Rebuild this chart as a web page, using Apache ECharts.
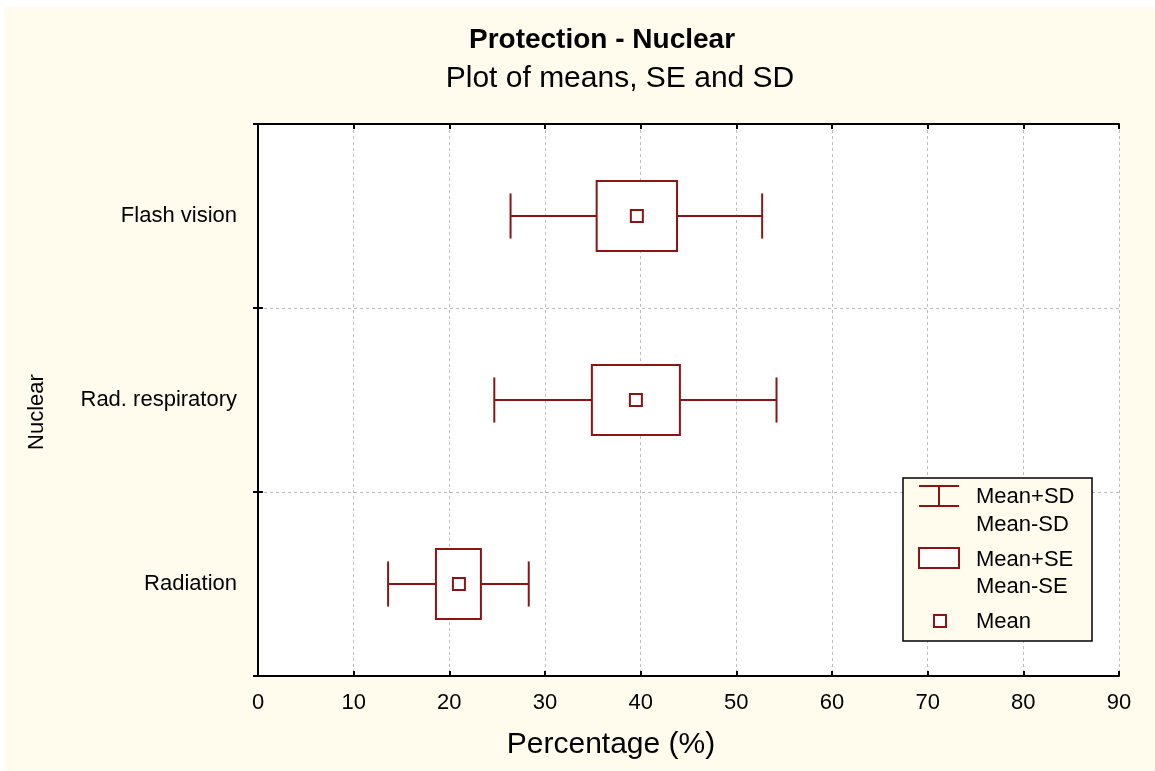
<!DOCTYPE html>
<html>
    <head>
        <meta charset="utf-8" />
        <script src="https://cdn.jsdelivr.net/npm/echarts@6/dist/echarts.min.js"></script>
    </head>
    <body style="margin: 0; background: #ffffff">
        <style>
            html,
            body,
            #main {
                width: 1155px;
                height: 771px;
            }
        </style>
        <div id="main"></div>
        <script>
            // categories bottom -> top
            var categories = ["Radiation", "Rad. respiratory", "Flash vision"];
            var means = [21.0, 39.5, 39.6];
            var seLow = [18.6, 34.9, 35.4];
            var seHigh = [23.3, 44.1, 43.8];
            var sdLow = [13.6, 24.7, 26.4];
            var sdHigh = [28.3, 54.2, 52.7];
            var xTicks = [0, 10, 20, 30, 40, 50, 60, 70, 80, 90];

            var RED = "#8c1414";
            var FONT = "Liberation Sans, Arial, sans-serif";

            var chart = echarts.init(document.getElementById("main"));

            var rows = [];
            for (var i = 0; i < categories.length; i++) {
                rows.push([i, means[i], seLow[i], seHigh[i], sdLow[i], sdHigh[i]]);
            }

            function renderItem(params, api) {
                var y = api.coord([0, api.value(0)])[1];
                var band = api.size([0, 1])[1];
                var xm = api.coord([api.value(1), 0])[0];
                var x1 = api.coord([api.value(2), 0])[0];
                var x2 = api.coord([api.value(3), 0])[0];
                var x0 = api.coord([api.value(4), 0])[0];
                var x3 = api.coord([api.value(5), 0])[0];
                var boxH = band * 0.38;
                var capH = band * 0.245;
                var sq = 12;
                var line = { stroke: RED, lineWidth: 2, fill: null };
                return {
                    type: "group",
                    children: [
                        { type: "line", shape: { x1: x0, y1: y, x2: x1, y2: y }, style: line },
                        { type: "line", shape: { x1: x2, y1: y, x2: x3, y2: y }, style: line },
                        { type: "line", shape: { x1: x0, y1: y - capH / 2, x2: x0, y2: y + capH / 2 }, style: line },
                        { type: "line", shape: { x1: x3, y1: y - capH / 2, x2: x3, y2: y + capH / 2 }, style: line },
                        {
                            type: "rect",
                            shape: { x: x1, y: y - boxH / 2, width: x2 - x1, height: boxH },
                            style: { stroke: RED, lineWidth: 2, fill: "#ffffff" }
                        },
                        {
                            type: "rect",
                            shape: { x: xm - sq / 2, y: y - sq / 2, width: sq, height: sq },
                            style: { stroke: RED, lineWidth: 2, fill: "#ffffff" }
                        }
                    ]
                };
            }

            function dashed() {
                return { show: true, lineStyle: { color: "#bdbdbd", type: [3, 3], width: 1 } };
            }
            function frameLine() {
                return { show: true, lineStyle: { color: "#000000", width: 2 } };
            }
            function tick(inside) {
                return { show: true, inside: inside, length: 5, lineStyle: { color: "#000000", width: 2 } };
            }

            // legend drawn by hand, two-line labels like the original
            var lx = 903, ly = 478;
            var legendTxt = function (t, y) {
                return {
                    type: "text",
                    z: 200,
                    x: lx + 73,
                    y: y,
                    style: { text: t, font: "22px " + FONT, fill: "#000", verticalAlign: "middle" }
                };
            };
            var legendLine = function (x1, y1, x2, y2) {
                return {
                    type: "line",
                    z: 200,
                    shape: { x1: x1, y1: y1, x2: x2, y2: y2 },
                    style: { stroke: RED, lineWidth: 2 }
                };
            };

            chart.setOption({
                backgroundColor: "#ffffff",
                animation: false,
                textStyle: { fontFamily: FONT },
                graphic: [
                    {
                        type: "rect",
                        z: -10,
                        silent: true,
                        shape: { x: 4, y: 7, width: 1151, height: 764 },
                        style: { fill: "#fffcee" }
                    },
                    {
                        type: "text",
                        x: 602,
                        y: 40,
                        style: {
                            text: "Protection - Nuclear",
                            font: "bold 28px " + FONT,
                            fill: "#000",
                            align: "center",
                            verticalAlign: "middle"
                        }
                    },
                    {
                        type: "text",
                        x: 620,
                        y: 79,
                        style: {
                            text: "Plot of means, SE and SD",
                            font: "30px " + FONT,
                            fill: "#000",
                            align: "center",
                            verticalAlign: "middle"
                        }
                    },
                    {
                        type: "text",
                        x: 611,
                        y: 745,
                        style: {
                            text: "Percentage (%)",
                            font: "30px " + FONT,
                            fill: "#000",
                            align: "center",
                            verticalAlign: "middle"
                        }
                    },
                    {
                        type: "text",
                        x: 37,
                        y: 412,
                        rotation: Math.PI / 2,
                        style: {
                            text: "Nuclear",
                            font: "22px " + FONT,
                            fill: "#000",
                            align: "center",
                            verticalAlign: "middle"
                        }
                    },
                    {
                        type: "rect",
                        z: 200,
                        shape: { x: lx, y: ly, width: 189, height: 163 },
                        style: { fill: "#fffcee", stroke: "#000", lineWidth: 1.5 }
                    },
                    legendLine(lx + 16, ly + 8, lx + 56, ly + 8),
                    legendLine(lx + 16, ly + 28, lx + 56, ly + 28),
                    legendLine(lx + 36, ly + 8, lx + 36, ly + 28),
                    legendTxt("Mean+SD", ly + 19),
                    legendTxt("Mean-SD", ly + 47),
                    {
                        type: "rect",
                        z: 200,
                        shape: { x: lx + 16, y: ly + 70, width: 40, height: 20 },
                        style: { fill: "#ffffff", stroke: RED, lineWidth: 2 }
                    },
                    legendTxt("Mean+SE", ly + 82),
                    legendTxt("Mean-SE", ly + 109),
                    {
                        type: "rect",
                        z: 200,
                        shape: { x: lx + 31, y: ly + 137, width: 12, height: 12 },
                        style: { fill: "#ffffff", stroke: RED, lineWidth: 2 }
                    },
                    legendTxt("Mean", ly + 144)
                ],
                grid: {
                    left: 258,
                    right: 36,
                    top: 124,
                    bottom: 95,
                    show: true,
                    backgroundColor: "#ffffff",
                    borderWidth: 0
                },
                xAxis: [
                    {
                        type: "value",
                        min: xTicks[0],
                        max: xTicks[xTicks.length - 1],
                        interval: 10,
                        position: "bottom",
                        axisLine: frameLine(),
                        axisTick: tick(true),
                        splitLine: dashed(),
                        axisLabel: { color: "#000", fontSize: 22, margin: 16 }
                    },
                    {
                        type: "value",
                        min: xTicks[0],
                        max: xTicks[xTicks.length - 1],
                        interval: 10,
                        position: "top",
                        axisLine: frameLine(),
                        axisTick: tick(true),
                        splitLine: { show: false },
                        axisLabel: { show: false }
                    }
                ],
                yAxis: [
                    {
                        type: "category",
                        data: categories,
                        position: "left",
                        axisLine: frameLine(),
                        axisTick: tick(false),
                        splitLine: dashed(),
                        axisLabel: { color: "#000", fontSize: 22, margin: 21 }
                    },
                    {
                        type: "category",
                        data: categories,
                        position: "right",
                        axisLine: frameLine(),
                        axisTick: tick(false),
                        splitLine: { show: false },
                        axisLabel: { show: false }
                    }
                ],
                series: [
                    {
                        type: "custom",
                        renderItem: renderItem,
                        encode: { x: [1, 2, 3, 4, 5], y: 0 },
                        data: rows,
                        z: 10
                    }
                ]
            });
        </script>
    </body>
</html>
